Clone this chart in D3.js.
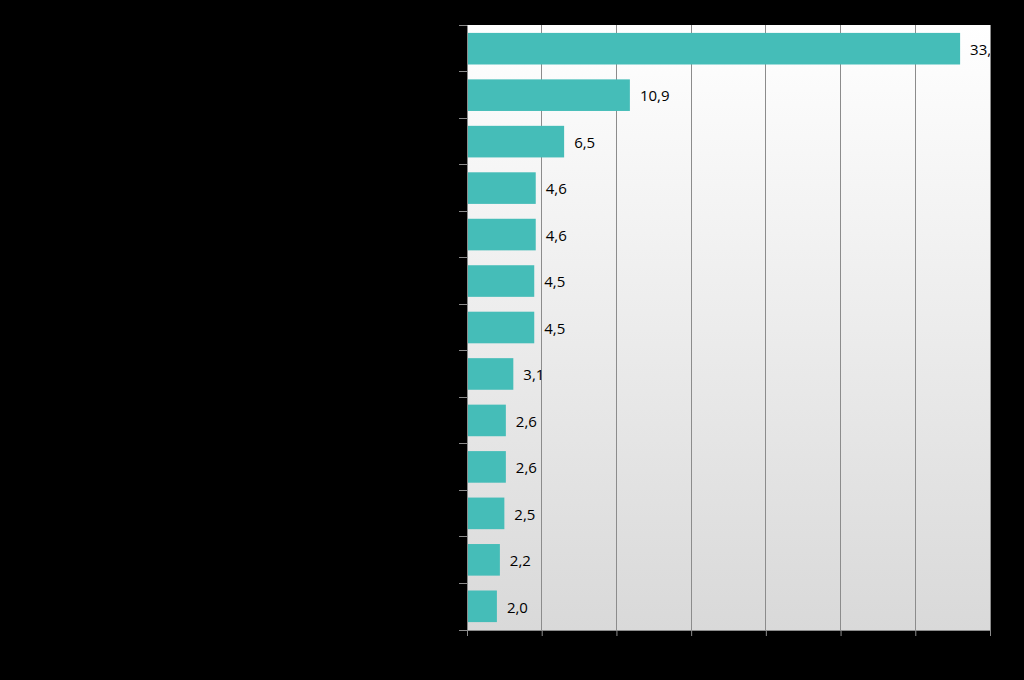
<!DOCTYPE html>
<html><head><meta charset="utf-8">
<script src="https://cdn.jsdelivr.net/npm/d3@7"></script>
<style>html,body{margin:0;padding:0;background:#000;}svg{display:block;}</style>
</head><body>
<svg id="chart" width="1024" height="680"></svg>
<script>
const categories = ["Categoria 1","Categoria 2","Categoria 3","Categoria 4","Categoria 5","Categoria 6","Categoria 7","Categoria 8","Categoria 9","Categoria 10","Categoria 11","Categoria 12","Categoria 13"];
const values = [33.0, 10.9, 6.5, 4.6, 4.6, 4.5, 4.5, 3.1, 2.6, 2.6, 2.5, 2.2, 2.0];
const xTicks = [0, 5, 10, 15, 20, 25, 30, 35];

const svg = d3.select("#chart");
const W = 1024, H = 680;
const m = {left: 467, right: 34, top: 25, bottom: 50};
const pw = W - m.left - m.right, ph = H - m.top - m.bottom;

svg.append("rect").attr("width", W).attr("height", H).attr("fill", "#000");

const defs = svg.append("defs");
const grad = defs.append("linearGradient").attr("id", "bg").attr("x1", 0).attr("y1", 0).attr("x2", 0).attr("y2", 1);
grad.append("stop").attr("offset", "0%").attr("stop-color", "#ffffff");
grad.append("stop").attr("offset", "100%").attr("stop-color", "#d9d9d9");
defs.append("clipPath").attr("id", "clip").append("rect").attr("width", pw).attr("height", ph);

const g = svg.append("g").attr("transform", `translate(${m.left},${m.top})`);
g.append("rect").attr("width", pw).attr("height", ph).attr("fill", "url(#bg)");

const x = d3.scaleLinear().domain([0, 35]).range([0, pw]);
const y = d3.scaleBand().domain(categories).range([0, ph]).paddingInner(0.32).paddingOuter(0.17);
const yb = d3.scaleBand().domain(categories).range([0, ph]);

// gridlines
g.append("g").selectAll("line").data(xTicks.slice(1)).join("line")
  .attr("x1", d => x(d)).attr("x2", d => x(d)).attr("y1", 0).attr("y2", ph)
  .attr("stroke", "#8c8c8c").attr("stroke-width", 1).attr("shape-rendering", "crispEdges");

// bars
g.append("g").selectAll("rect").data(values).join("rect")
  .attr("x", x(0)).attr("y", (d, i) => y(categories[i]))
  .attr("width", d => x(d) - x(0)).attr("height", y.bandwidth())
  .attr("fill", "#45bdb8");

// value labels
const fmt = v => d3.format(".1f")(v).replace(".", ",");
g.append("g").attr("clip-path", "url(#clip)").selectAll("text").data(values).join("text")
  .attr("x", d => x(d) + 10).attr("y", (d, i) => y(categories[i]) + y.bandwidth() / 2 + 1)
  .attr("dy", "0.35em").attr("font-family", "'Open Sans', sans-serif").attr("font-size", 15)
  .attr("fill", "#000").text(fmt);

// axes
const xAxis = g.append("g").attr("transform", `translate(0,${ph})`)
  .call(d3.axisBottom(x).tickValues(xTicks).tickSize(6).tickFormat(d => d));
xAxis.select(".domain").attr("stroke", "#8c8c8c");
xAxis.selectAll(".tick line").attr("stroke", "#8c8c8c");
xAxis.selectAll("text").attr("fill", "#000").attr("font-family", "'Open Sans', sans-serif").attr("font-size", 15);

const yAxis = g.append("g")
  .call(d3.axisLeft(yb).tickSize(0).tickPadding(12));
yAxis.select(".domain").attr("stroke", "#8c8c8c");
yAxis.selectAll("text").attr("fill", "#000").attr("font-family", "'Open Sans', sans-serif").attr("font-size", 15);
// category boundary tick marks
g.append("g").selectAll("line").data(d3.range(categories.length + 1)).join("line")
  .attr("x1", -8).attr("x2", 0)
  .attr("y1", i => i < categories.length ? yb(categories[i]) : ph)
  .attr("y2", i => i < categories.length ? yb(categories[i]) : ph)
  .attr("stroke", "#8c8c8c").attr("shape-rendering", "crispEdges");
</script>
</body></html>
